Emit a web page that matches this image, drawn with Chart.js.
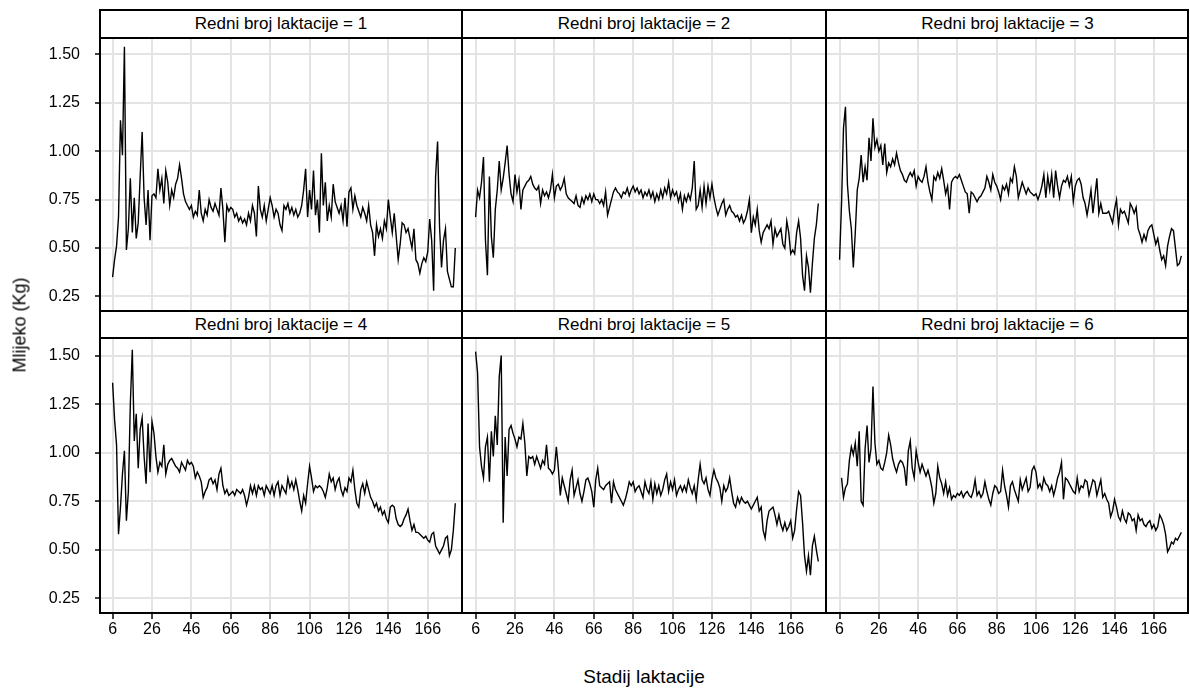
<!DOCTYPE html>
<html>
<head>
<meta charset="utf-8">
<script src="https://cdn.jsdelivr.net/npm/chart.js@4.4.1/dist/chart.umd.min.js"></script>
<style>
  html, body { margin: 0; padding: 0; background: #fff; }
  #wrap { position: relative; width: 1190px; height: 691px; overflow: hidden;
          font-family: "Liberation Sans", Arial, sans-serif; color: #000; }
  .pane { position: absolute; }
  .line { position: absolute; background: #000; z-index: 5; }
  .strip { position: absolute; z-index: 4; background: #fff; text-align: center;
           font-size: 17px; display: flex; align-items: center; justify-content: center; }
  .title { position: absolute; white-space: nowrap; }
</style>
</head>
<body>
<div id="wrap"></div>
<script>
// Days in milk (x categories) and daily mean milk yield per lactation number
const days = [];
for (let d = 6; d <= 180; d++) days.push(d);

const lactationNumbers = [1, 2, 3, 4, 5, 6];
const xTickValues = [6, 26, 46, 66, 86, 106, 126, 146, 166];
const yTickValues = [0.25, 0.50, 0.75, 1.00, 1.25, 1.50];

const milkL1 = [
  0.35,0.44,0.51,0.66,1.16,0.98,1.54,0.49,0.60,0.86,
  0.58,0.76,0.55,0.63,0.87,1.10,0.76,0.62,0.80,0.54,
  0.77,0.78,0.76,0.91,0.80,0.86,0.73,0.90,0.84,0.72,
  0.80,0.76,0.83,0.86,0.93,0.86,0.78,0.74,0.72,0.70,
  0.72,0.66,0.69,0.67,0.80,0.68,0.64,0.70,0.67,0.75,
  0.71,0.69,0.73,0.70,0.67,0.81,0.70,0.53,0.72,0.69,
  0.71,0.70,0.66,0.68,0.64,0.66,0.63,0.65,0.62,0.68,
  0.64,0.72,0.68,0.56,0.82,0.70,0.66,0.72,0.64,0.70,
  0.76,0.72,0.66,0.70,0.68,0.62,0.59,0.72,0.70,0.73,
  0.68,0.71,0.67,0.70,0.66,0.68,0.72,0.80,0.91,0.66,
  0.80,0.70,0.90,0.67,0.75,0.58,0.99,0.72,0.84,0.64,
  0.72,0.66,0.83,0.74,0.71,0.68,0.72,0.64,0.76,0.61,
  0.79,0.81,0.70,0.77,0.72,0.69,0.66,0.71,0.68,0.64,
  0.72,0.62,0.58,0.46,0.62,0.56,0.60,0.55,0.64,0.60,
  0.75,0.66,0.58,0.68,0.56,0.44,0.52,0.63,0.62,0.58,
  0.60,0.55,0.50,0.60,0.44,0.42,0.37,0.42,0.45,0.43,
  0.48,0.65,0.54,0.28,0.87,1.05,0.61,0.40,0.54,0.60,
  0.38,0.34,0.30,0.30,0.50
];
const milkL2 = [
  0.66,0.80,0.76,0.84,0.97,0.54,0.36,0.87,0.56,0.45,
  0.70,0.80,0.95,0.80,0.86,0.94,1.03,0.88,0.78,0.74,
  0.88,0.79,0.85,0.70,0.80,0.82,0.84,0.85,0.87,0.83,
  0.81,0.80,0.82,0.73,0.80,0.77,0.79,0.76,0.80,0.88,
  0.76,0.82,0.83,0.80,0.82,0.86,0.78,0.76,0.75,0.74,
  0.73,0.77,0.72,0.71,0.76,0.73,0.77,0.75,0.78,0.74,
  0.78,0.75,0.75,0.73,0.75,0.72,0.79,0.67,0.71,0.75,
  0.79,0.81,0.79,0.78,0.76,0.79,0.78,0.81,0.77,0.80,
  0.82,0.79,0.81,0.78,0.80,0.76,0.79,0.77,0.80,0.76,
  0.79,0.74,0.78,0.75,0.80,0.76,0.81,0.78,0.84,0.76,
  0.80,0.77,0.79,0.74,0.78,0.70,0.77,0.74,0.78,0.75,
  0.81,0.95,0.70,0.72,0.80,0.71,0.82,0.73,0.82,0.76,
  0.83,0.76,0.71,0.67,0.70,0.73,0.75,0.67,0.70,0.72,
  0.69,0.68,0.66,0.67,0.64,0.67,0.63,0.65,0.69,0.75,
  0.58,0.66,0.62,0.70,0.59,0.53,0.58,0.60,0.62,0.60,
  0.64,0.52,0.60,0.56,0.58,0.60,0.52,0.50,0.64,0.58,
  0.47,0.49,0.47,0.58,0.64,0.55,0.36,0.28,0.46,0.40,
  0.27,0.42,0.55,0.62,0.73
];
const milkL3 = [
  0.44,0.73,1.12,1.23,0.83,0.69,0.60,0.40,0.58,0.80,
  0.86,0.98,0.84,0.92,0.85,1.07,0.95,1.17,1.02,1.06,
  1.00,1.03,0.93,1.04,0.89,0.94,0.92,0.96,0.93,0.99,
  0.94,0.90,0.88,0.85,0.84,0.87,0.89,0.87,0.90,0.82,
  0.87,0.85,0.84,0.87,0.92,0.84,0.79,0.75,0.87,0.85,
  0.89,0.86,0.91,0.85,0.78,0.82,0.70,0.84,0.86,0.87,
  0.86,0.88,0.85,0.82,0.79,0.78,0.68,0.79,0.78,0.76,
  0.74,0.76,0.77,0.79,0.81,0.87,0.84,0.80,0.88,0.84,
  0.82,0.79,0.75,0.82,0.80,0.83,0.78,0.86,0.84,0.92,
  0.87,0.76,0.80,0.84,0.81,0.78,0.81,0.79,0.78,0.77,
  0.78,0.75,0.78,0.82,0.88,0.76,0.87,0.80,0.88,0.76,
  0.90,0.82,0.76,0.82,0.85,0.84,0.87,0.82,0.87,0.74,
  0.82,0.85,0.86,0.83,0.76,0.73,0.67,0.73,0.80,0.68,
  0.77,0.86,0.68,0.73,0.68,0.68,0.68,0.69,0.66,0.63,
  0.70,0.75,0.62,0.70,0.68,0.69,0.66,0.63,0.73,0.71,
  0.68,0.71,0.60,0.57,0.53,0.57,0.54,0.59,0.61,0.62,
  0.57,0.52,0.55,0.49,0.44,0.46,0.41,0.51,0.56,0.60,
  0.59,0.50,0.41,0.42,0.46
];
const milkL4 = [
  1.36,1.17,1.04,0.58,0.72,0.89,1.01,0.65,0.80,1.25,
  1.53,1.06,1.20,0.92,1.12,1.18,0.98,0.84,1.15,0.90,
  1.16,1.10,0.98,0.90,0.95,0.93,1.04,0.89,0.94,0.96,
  0.97,0.95,0.93,0.92,0.90,0.95,0.93,0.91,0.96,0.94,
  0.95,0.93,0.87,0.90,0.88,0.85,0.77,0.80,0.82,0.86,
  0.87,0.84,0.86,0.81,0.89,0.92,0.83,0.79,0.81,0.78,
  0.79,0.80,0.78,0.81,0.80,0.79,0.81,0.78,0.73,0.77,
  0.83,0.79,0.83,0.78,0.83,0.81,0.82,0.78,0.83,0.81,
  0.79,0.83,0.78,0.83,0.85,0.78,0.83,0.81,0.79,0.87,
  0.82,0.85,0.81,0.86,0.81,0.75,0.70,0.78,0.74,0.84,
  0.93,0.87,0.80,0.83,0.82,0.83,0.82,0.80,0.77,0.82,
  0.89,0.85,0.87,0.81,0.85,0.87,0.81,0.78,0.82,0.80,
  0.87,0.85,0.91,0.81,0.74,0.72,0.81,0.84,0.79,0.85,
  0.81,0.77,0.75,0.72,0.74,0.70,0.72,0.68,0.70,0.66,
  0.64,0.72,0.73,0.72,0.66,0.63,0.62,0.63,0.66,0.68,
  0.71,0.65,0.60,0.63,0.59,0.59,0.58,0.57,0.56,0.57,
  0.55,0.54,0.58,0.59,0.52,0.50,0.48,0.50,0.52,0.56,
  0.57,0.47,0.50,0.60,0.74
];
const milkL5 = [
  1.52,1.41,1.03,0.93,0.87,1.03,1.08,0.85,1.11,0.98,
  1.19,1.04,1.39,1.50,0.64,1.08,0.88,1.12,1.14,1.10,
  1.07,1.03,1.08,1.07,1.15,1.05,0.88,0.98,0.97,0.98,
  0.94,0.98,0.95,0.92,0.96,0.94,1.04,0.92,0.91,0.89,
  0.91,1.03,0.92,0.78,0.87,0.83,0.79,0.75,0.86,0.91,
  0.78,0.82,0.86,0.79,0.75,0.80,0.86,0.87,0.84,0.80,
  0.72,0.86,0.92,0.83,0.82,0.81,0.83,0.84,0.85,0.74,
  0.85,0.81,0.79,0.77,0.75,0.73,0.76,0.80,0.85,0.83,
  0.85,0.80,0.82,0.83,0.80,0.77,0.85,0.81,0.79,0.85,
  0.76,0.84,0.79,0.83,0.78,0.81,0.86,0.89,0.80,0.85,
  0.81,0.86,0.78,0.81,0.83,0.80,0.83,0.80,0.86,0.82,
  0.79,0.83,0.76,0.86,0.94,0.86,0.84,0.87,0.81,0.78,
  0.86,0.91,0.87,0.85,0.82,0.75,0.83,0.80,0.82,0.87,
  0.80,0.74,0.72,0.77,0.74,0.77,0.75,0.74,0.75,0.73,
  0.71,0.73,0.75,0.77,0.70,0.72,0.60,0.56,0.65,0.70,
  0.71,0.72,0.68,0.63,0.68,0.63,0.60,0.64,0.60,0.62,
  0.65,0.56,0.60,0.71,0.80,0.78,0.64,0.47,0.39,0.47,
  0.37,0.52,0.57,0.50,0.44
];
const milkL6 = [
  null,0.87,0.77,0.82,0.84,0.96,1.03,0.99,1.05,0.93,
  1.11,0.75,0.73,1.02,1.14,0.95,1.02,1.34,1.05,0.94,
  0.96,0.92,0.91,0.95,1.00,1.09,1.04,0.97,0.93,0.90,
  0.94,0.96,0.95,0.92,0.83,1.01,1.06,0.92,0.87,1.01,
  0.95,0.90,0.94,0.91,0.88,0.91,0.87,0.82,0.74,0.79,
  0.93,0.87,0.84,0.79,0.85,0.78,0.82,0.76,0.78,0.77,
  0.79,0.78,0.80,0.77,0.79,0.80,0.78,0.77,0.80,0.86,
  0.78,0.80,0.77,0.79,0.85,0.80,0.76,0.73,0.79,0.83,
  0.82,0.79,0.80,0.91,0.83,0.78,0.72,0.83,0.85,0.81,
  0.78,0.75,0.86,0.81,0.84,0.87,0.80,0.82,0.91,0.93,
  0.90,0.82,0.84,0.81,0.87,0.84,0.83,0.80,0.83,0.78,
  0.82,0.87,0.90,0.95,0.76,0.87,0.86,0.84,0.82,0.80,
  0.79,0.87,0.80,0.83,0.82,0.86,0.85,0.78,0.82,0.86,
  0.85,0.78,0.82,0.86,0.77,0.79,0.76,0.74,0.67,0.70,
  0.76,0.72,0.67,0.65,0.70,0.66,0.64,0.69,0.68,0.65,
  0.66,0.60,0.68,0.65,0.66,0.63,0.62,0.64,0.65,0.61,
  0.63,0.60,0.62,0.68,0.66,0.63,0.58,0.49,0.51,0.54,
  0.53,0.56,0.55,0.57,0.59
];
const milkSeries = [milkL1, milkL2, milkL3, milkL4, milkL5, milkL6];

// ---- panel geometry ----
const FONT = '"Liberation Sans", Arial, sans-serif';
const COL_LEFT = [100, 463, 827];
const COL_W = [362, 362, 361];
const ROW_TOP = [38, 339];
const ROW_H = [273, 274];
const STRIP_TOP = [10, 311];
const STRIP_H = 27;
const AXIS_W = 100;
const AXIS_H = 34;
const X_MIN = -0.4, X_MAX = 183.4;
const Y_MIN = 0.175, Y_MAX = 1.585;

const wrap = document.getElementById('wrap');

function addDiv(cls, style, text) {
  const d = document.createElement('div');
  d.className = cls;
  Object.assign(d.style, style);
  if (text !== undefined) d.textContent = text;
  wrap.appendChild(d);
  return d;
}

lactationNumbers.forEach((n, i) => {
  const r = Math.floor(i / 3), c = i % 3;
  const leftAxis = c === 0, bottomAxis = r === 1;
  const w = COL_W[c] + (leftAxis ? AXIS_W : 0);
  const h = ROW_H[r] + (bottomAxis ? AXIS_H : 0);

  const pane = addDiv('pane', {
    left: (leftAxis ? COL_LEFT[c] - AXIS_W : COL_LEFT[c]) + 'px',
    top: ROW_TOP[r] + 'px', width: w + 'px', height: h + 'px'
  });
  const cv = document.createElement('canvas');
  cv.width = w; cv.height = h;
  cv.style.width = w + 'px'; cv.style.height = h + 'px';
  pane.appendChild(cv);

  const values = milkSeries[i];
  const points = days.map((d, k) => ({ x: d, y: values[k] === undefined ? null : values[k] }));

  new Chart(cv, {
    type: 'line',
    data: { datasets: [{ data: points, borderColor: '#000', borderWidth: 1.4,
                         pointRadius: 0, tension: 0, fill: false, spanGaps: false }] },
    options: {
      responsive: false, animation: false, devicePixelRatio: 1,
      layout: { padding: 0, autoPadding: false },
      plugins: { legend: { display: false }, tooltip: { enabled: false } },
      scales: {
        x: {
          type: 'linear', min: X_MIN, max: X_MAX,
          afterBuildTicks: s => { s.ticks = xTickValues.map(v => ({ value: v })); },
          afterFit: s => { s.height = bottomAxis ? AXIS_H : 0; s.paddingLeft = 0; s.paddingRight = 0; },
          border: { display: false },
          grid: { color: '#e4e4e4', lineWidth: 2, drawTicks: bottomAxis, tickLength: 6,
                  tickColor: '#000', tickWidth: 1.5 },
          ticks: { display: bottomAxis, autoSkip: false, maxRotation: 0, padding: 1,
                   color: '#000', font: { family: FONT, size: 16 } }
        },
        y: {
          type: 'linear', min: Y_MIN, max: Y_MAX,
          afterBuildTicks: s => { s.ticks = yTickValues.map(v => ({ value: v })); },
          afterFit: s => { s.width = leftAxis ? AXIS_W : 0; s.paddingTop = 0; s.paddingBottom = 0; },
          border: { display: false },
          grid: { color: '#e4e4e4', lineWidth: 2, drawTicks: leftAxis, tickLength: 5,
                  tickColor: '#000', tickWidth: 1.5 },
          ticks: { display: leftAxis, padding: 15, color: '#000',
                   font: { family: FONT, size: 16 },
                   callback: v => Number(v).toFixed(2) }
        }
      }
    }
  });

  // panel header strip
  addDiv('strip', {
    left: COL_LEFT[c] + 'px', top: STRIP_TOP[r] + 'px',
    width: COL_W[c] + 'px', height: STRIP_H + 'px'
  }, 'Redni broj laktacije = ' + n);
});

// frame lines
const L = 99, R = 1189, T = 9, B = 614;
addDiv('line', { left: L + 'px', top: T + 'px', width: (R - L) + 'px', height: '2px' });
addDiv('line', { left: L + 'px', top: (B - 2) + 'px', width: (R - L) + 'px', height: '2px' });
addDiv('line', { left: L + 'px', top: T + 'px', width: '2px', height: (B - T) + 'px' });
addDiv('line', { left: (R - 2) + 'px', top: T + 'px', width: '2px', height: (B - T) + 'px' });
[461, 825].forEach(x => addDiv('line', { left: x + 'px', top: T + 'px', width: '2px', height: (B - T) + 'px' }));
[37, 310, 337].forEach(y => addDiv('line', { left: L + 'px', top: y + 'px', width: (R - L) + 'px', height: '2px' }));

// axis titles
addDiv('title', { left: '644px', top: '677px', fontSize: '19px', transform: 'translate(-50%,-50%)' }, 'Stadij laktacije');
addDiv('title', { left: '20px', top: '325px', fontSize: '18px', transform: 'translate(-50%,-50%) rotate(-90deg)' }, 'Mlijeko (Kg)');
</script>
</body>
</html>
